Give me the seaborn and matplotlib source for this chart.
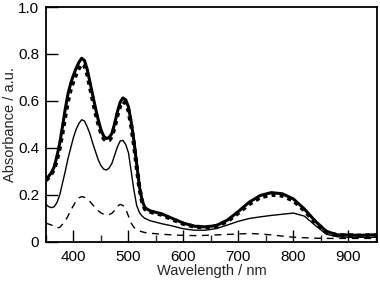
import numpy as np
import pandas as pd
import matplotlib
matplotlib.use("Agg")
import matplotlib.pyplot as plt
import seaborn as sns
from matplotlib.ticker import MultipleLocator, FuncFormatter

wavelength = [350, 355, 360, 365, 370, 375, 380, 385, 390, 395, 400, 405, 410, 415, 420,
              425, 430, 435, 440, 445, 450, 455, 460, 465, 470, 475, 480, 485, 490, 495,
              500, 505, 510, 515, 520, 525, 530,
              540, 560, 580, 600, 620, 640, 660, 680, 700, 720, 740, 760, 780, 800, 820,
              840, 860, 880, 900, 920, 940, 950]

# thick solid
abs_a = [0.264, 0.28, 0.295, 0.32, 0.365, 0.42, 0.49, 0.565, 0.63, 0.675, 0.71, 0.74, 0.765, 0.782, 0.772,
         0.735, 0.68, 0.625, 0.57, 0.52, 0.478, 0.45, 0.44, 0.445, 0.462, 0.505, 0.555, 0.595, 0.613, 0.605,
         0.575, 0.51, 0.43, 0.33, 0.235, 0.175, 0.145,
         0.132, 0.12, 0.10, 0.08, 0.067, 0.064, 0.07, 0.093, 0.13, 0.17, 0.198, 0.21, 0.205, 0.183, 0.14,
         0.088, 0.045, 0.03, 0.03, 0.028, 0.03, 0.03]
# thick dotted
abs_b = [0.262, 0.275, 0.29, 0.31, 0.35, 0.40, 0.465, 0.535, 0.60, 0.65, 0.685, 0.715, 0.74, 0.757, 0.75,
         0.715, 0.66, 0.605, 0.55, 0.505, 0.465, 0.44, 0.43, 0.433, 0.45, 0.49, 0.54, 0.58, 0.598, 0.59,
         0.56, 0.495, 0.415, 0.32, 0.228, 0.17, 0.14,
         0.128, 0.116, 0.096, 0.077, 0.065, 0.062, 0.067, 0.088, 0.124, 0.162, 0.19, 0.201, 0.197, 0.176, 0.134,
         0.083, 0.042, 0.028, 0.028, 0.027, 0.028, 0.028]
# thin solid
abs_c = [0.16, 0.15, 0.146, 0.15, 0.168, 0.2, 0.25, 0.3, 0.355, 0.4, 0.445, 0.48, 0.505, 0.52, 0.515,
         0.49, 0.46, 0.42, 0.385, 0.35, 0.325, 0.31, 0.306, 0.315, 0.335, 0.37, 0.405, 0.43, 0.432, 0.415,
         0.38, 0.30, 0.22, 0.155, 0.125, 0.11, 0.1,
         0.09, 0.078, 0.068, 0.056, 0.05, 0.05, 0.057, 0.072, 0.088, 0.1, 0.107, 0.113, 0.118, 0.123, 0.11,
         0.07, 0.033, 0.022, 0.02, 0.02, 0.02, 0.02]
# dashed
abs_d = [0.08, 0.076, 0.072, 0.065, 0.06, 0.062, 0.075, 0.09, 0.11, 0.135, 0.155, 0.175, 0.188, 0.193, 0.19,
         0.183, 0.172, 0.158, 0.145, 0.133, 0.124, 0.118, 0.115, 0.117, 0.122, 0.135, 0.152, 0.16, 0.155, 0.14,
         0.11, 0.08, 0.062, 0.052, 0.047, 0.043, 0.04,
         0.037, 0.033, 0.03, 0.028, 0.027, 0.028, 0.03, 0.032, 0.034, 0.036, 0.034, 0.03, 0.025, 0.02, 0.018,
         0.016, 0.015, 0.015, 0.015, 0.015, 0.015, 0.015]

sns.set_style("ticks")
plt.rcParams["font.family"] = ["Liberation Sans", "DejaVu Sans"]
plt.rcParams["font.size"] = 10

fig = plt.figure(figsize=(3.8, 2.86), dpi=100)
ax = fig.add_axes([0.121, 0.154, 0.871, 0.8215])

sns.lineplot(x=wavelength, y=abs_d, ax=ax, color="black", lw=1.0, linestyle=(0, (5, 4)))
sns.lineplot(x=wavelength, y=abs_c, ax=ax, color="black", lw=1.0)
sns.lineplot(x=wavelength, y=abs_b, ax=ax, color="black", lw=3.0, linestyle=(0, (1, 1)))
sns.lineplot(x=wavelength, y=abs_a, ax=ax, color="black", lw=2.2)

ax.set_xlim(350, 952)
ax.set_ylim(0, 1.0)
ax.xaxis.set_major_locator(MultipleLocator(100))
ax.xaxis.set_minor_locator(MultipleLocator(50))
ax.yaxis.set_major_locator(MultipleLocator(0.2))
ax.yaxis.set_major_formatter(FuncFormatter(lambda v, p: "0" if abs(v) < 1e-9 else f"{v:.1f}"))
ax.tick_params(which="major", direction="in", length=8.5, width=1.0, colors="black", labelsize=11)
ax.tick_params(which="minor", direction="in", length=5, width=1.0)
ax.tick_params(axis="x", which="major", pad=6)
ax.tick_params(axis="y", which="major", pad=5)
for s in ax.spines.values():
    s.set_visible(True)
    s.set_linewidth(1.3)
    s.set_color("black")

ax.set_xlabel("Wavelength / nm", fontsize=10.5, labelpad=0)
ax.set_ylabel("Absorbance / a.u.", fontsize=10.5, labelpad=1)

fig.savefig("out.png", dpi=100)
